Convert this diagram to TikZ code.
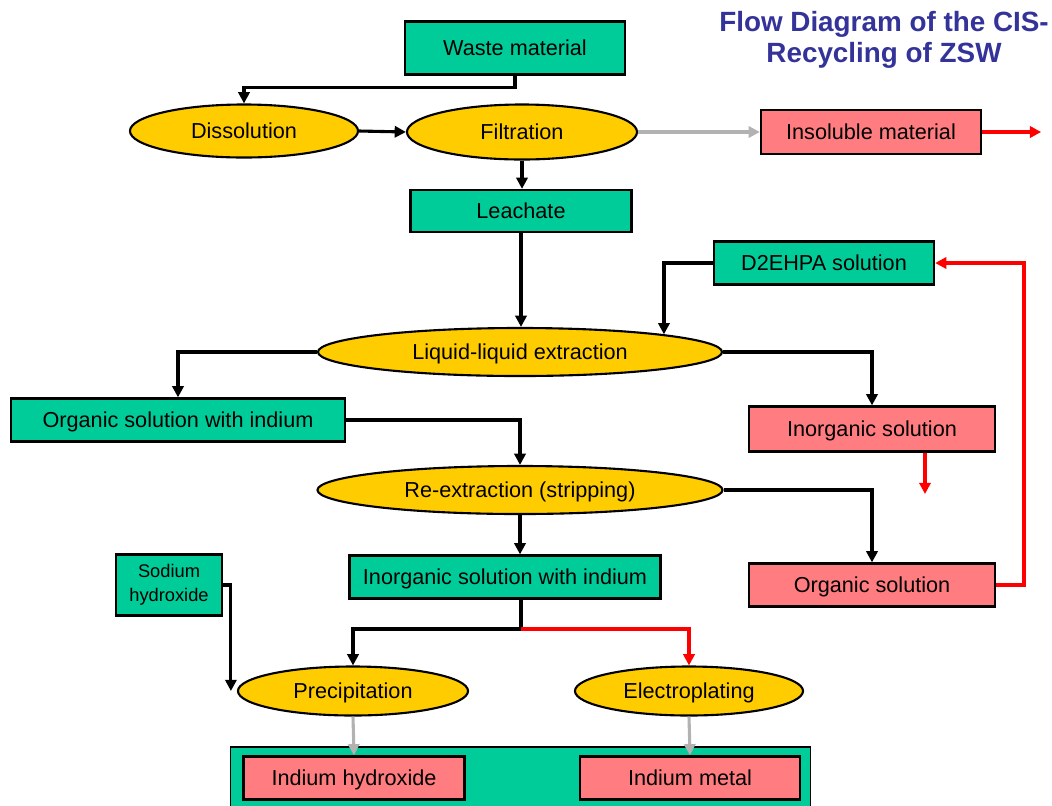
\documentclass[tikz,border=0pt]{standalone}
\usepackage{fontspec}
\setmainfont{Liberation Sans}
\usetikzlibrary{positioning,arrows.meta,shapes.geometric}
\definecolor{boxgreen}{HTML}{00CC99}
\definecolor{ovalyellow}{HTML}{FFCC00}
\definecolor{outpink}{HTML}{FF7C80}
\definecolor{titleblue}{HTML}{333399}
\definecolor{flowgray}{HTML}{B2B2B2}
\tikzstyle{block}=[rectangle,draw,line width=1.6pt,fill=boxgreen,inner sep=0pt,text height=14pt,text depth=3pt]
\tikzstyle{product}=[block,fill=outpink]
\tikzstyle{process}=[ellipse,draw,line width=1.5pt,fill=ovalyellow,inner sep=0pt,text height=14pt,text depth=3pt]
\tikzstyle{flow}=[line width=2.2pt,-{Triangle[length=8pt,width=8pt]}]
\tikzstyle{redflow}=[flow,red,line width=2.6pt]
\tikzstyle{grayflow}=[flow,flowgray]

\begin{document}
\begin{tikzpicture}[x=0.025cm,y=-0.025cm,font=\fontsize{15.4}{18}\selectfont]
\useasboundingbox (0,0) rectangle (1052,805);

% title
\node [titleblue, align=center, font=\fontsize{19.8}{22}\selectfont\bfseries] (title) at (884,40) {Flow Diagram of the CIS-\\Recycling of ZSW};

% first stage
\node [block, minimum width=5.5cm, minimum height=1.325cm] (waste) at (515,48) {Waste material};
\node [process, minimum width=5.7cm, minimum height=1.325cm] (diss) at (244,131) {Dissolution};
\node [process, minimum width=5.75cm, minimum height=1.375cm] (filt) at (522,132) {Filtration};
\node [product, minimum width=5.5cm, minimum height=1.1cm] (insol) at (871,132) {Insoluble material};
\node [block, minimum width=5.525cm, minimum height=1.05cm] (leach) at (521,211) {Leachate};
\draw [flow] (waste.south) -- ++(0,12) -| (diss.north);
\draw [flow] (diss.east) -- (filt.west);
\draw [grayflow] (filt.east) -- (insol.west);
\draw [redflow] (insol.east) -- ++(59,0);
\draw [flow] (filt.south) -- (filt.south |- leach.north);

% extraction
\node [block, minimum width=5.5cm, minimum height=1.075cm] (d2ehpa) at (824,263) {D2EHPA solution};
\node [process, minimum width=10.1cm, minimum height=1.2cm] (lle) at (520,352) {Liquid-liquid extraction};
\node [block, minimum width=8.35cm, minimum height=1.075cm] (orgin) at (178,420) {Organic solution with indium};
\node [product, minimum width=6.15cm, minimum height=1.125cm] (inorg) at (872,429) {Inorganic solution};
\coordinate (inorgout) at (925,494);
\draw [flow] (leach.south) -- (leach.south |- lle.north);
\draw [flow] (d2ehpa.west) -| (lle.7);
\draw [flow] (lle.west) -| (orgin.north);
\draw [flow] (lle.east) -| (inorg.north);
\draw [redflow, line width=2.8pt] (inorg.south -| inorgout) -- (inorgout);

% stripping
\node [process, minimum width=10.125cm, minimum height=1.2cm] (reex) at (520,490) {Re-extraction (stripping)};
\node [product, minimum width=6.15cm, minimum height=1.075cm] (orgsol) at (872,585) {Organic solution};
\node [block, minimum width=7.775cm, minimum height=1.075cm] (inorgin) at (505,577) {Inorganic solution with indium};
\draw [flow] (orgin.east) -| (reex.north);
\draw [flow] (reex.east) -| (orgsol.north);
\draw [flow] (reex.south) -- (reex.south |- inorgin.north);
\draw [redflow, line width=2.9pt] (orgsol.east) -- ++(28,0) |- (d2ehpa.east);

% recovery
\node [block, align=center, text height=, text depth=, minimum width=2.65cm, minimum height=1.525cm, font=\fontsize{13}{17}\selectfont] (naoh) at (169,585) {Sodium\\hydroxide};
\node [process, minimum width=5.75cm, minimum height=1.225cm] (precip) at (353,691) {Precipitation};
\node [process, minimum width=5.7cm, minimum height=1.225cm] (electro) at (689,691) {Electroplating};
\coordinate (split) at (521,629);
\draw [flow] (inorgin.south -| split) -- (split) -| (precip.north);
\draw [redflow, line width=2.4pt] (split) -| (electro.north);
\draw [flow] (naoh.east) -| ([xshift=-0.15cm]precip.west);

% products
\node [block, line width=0.8pt, minimum width=14.475cm, minimum height=1.625cm] (outbox) at (520.5,779.5) {};
\node [product, minimum width=5.525cm, minimum height=1.075cm] (inhydrox) at (354,778) {Indium hydroxide};
\node [product, minimum width=5.5cm, minimum height=1.075cm] (inmetal) at (690,778) {Indium metal};
\draw [grayflow] (precip.south) -- (inhydrox.north);
\draw [grayflow] (electro.south) -- (inmetal.north);

\end{tikzpicture}
\end{document}
